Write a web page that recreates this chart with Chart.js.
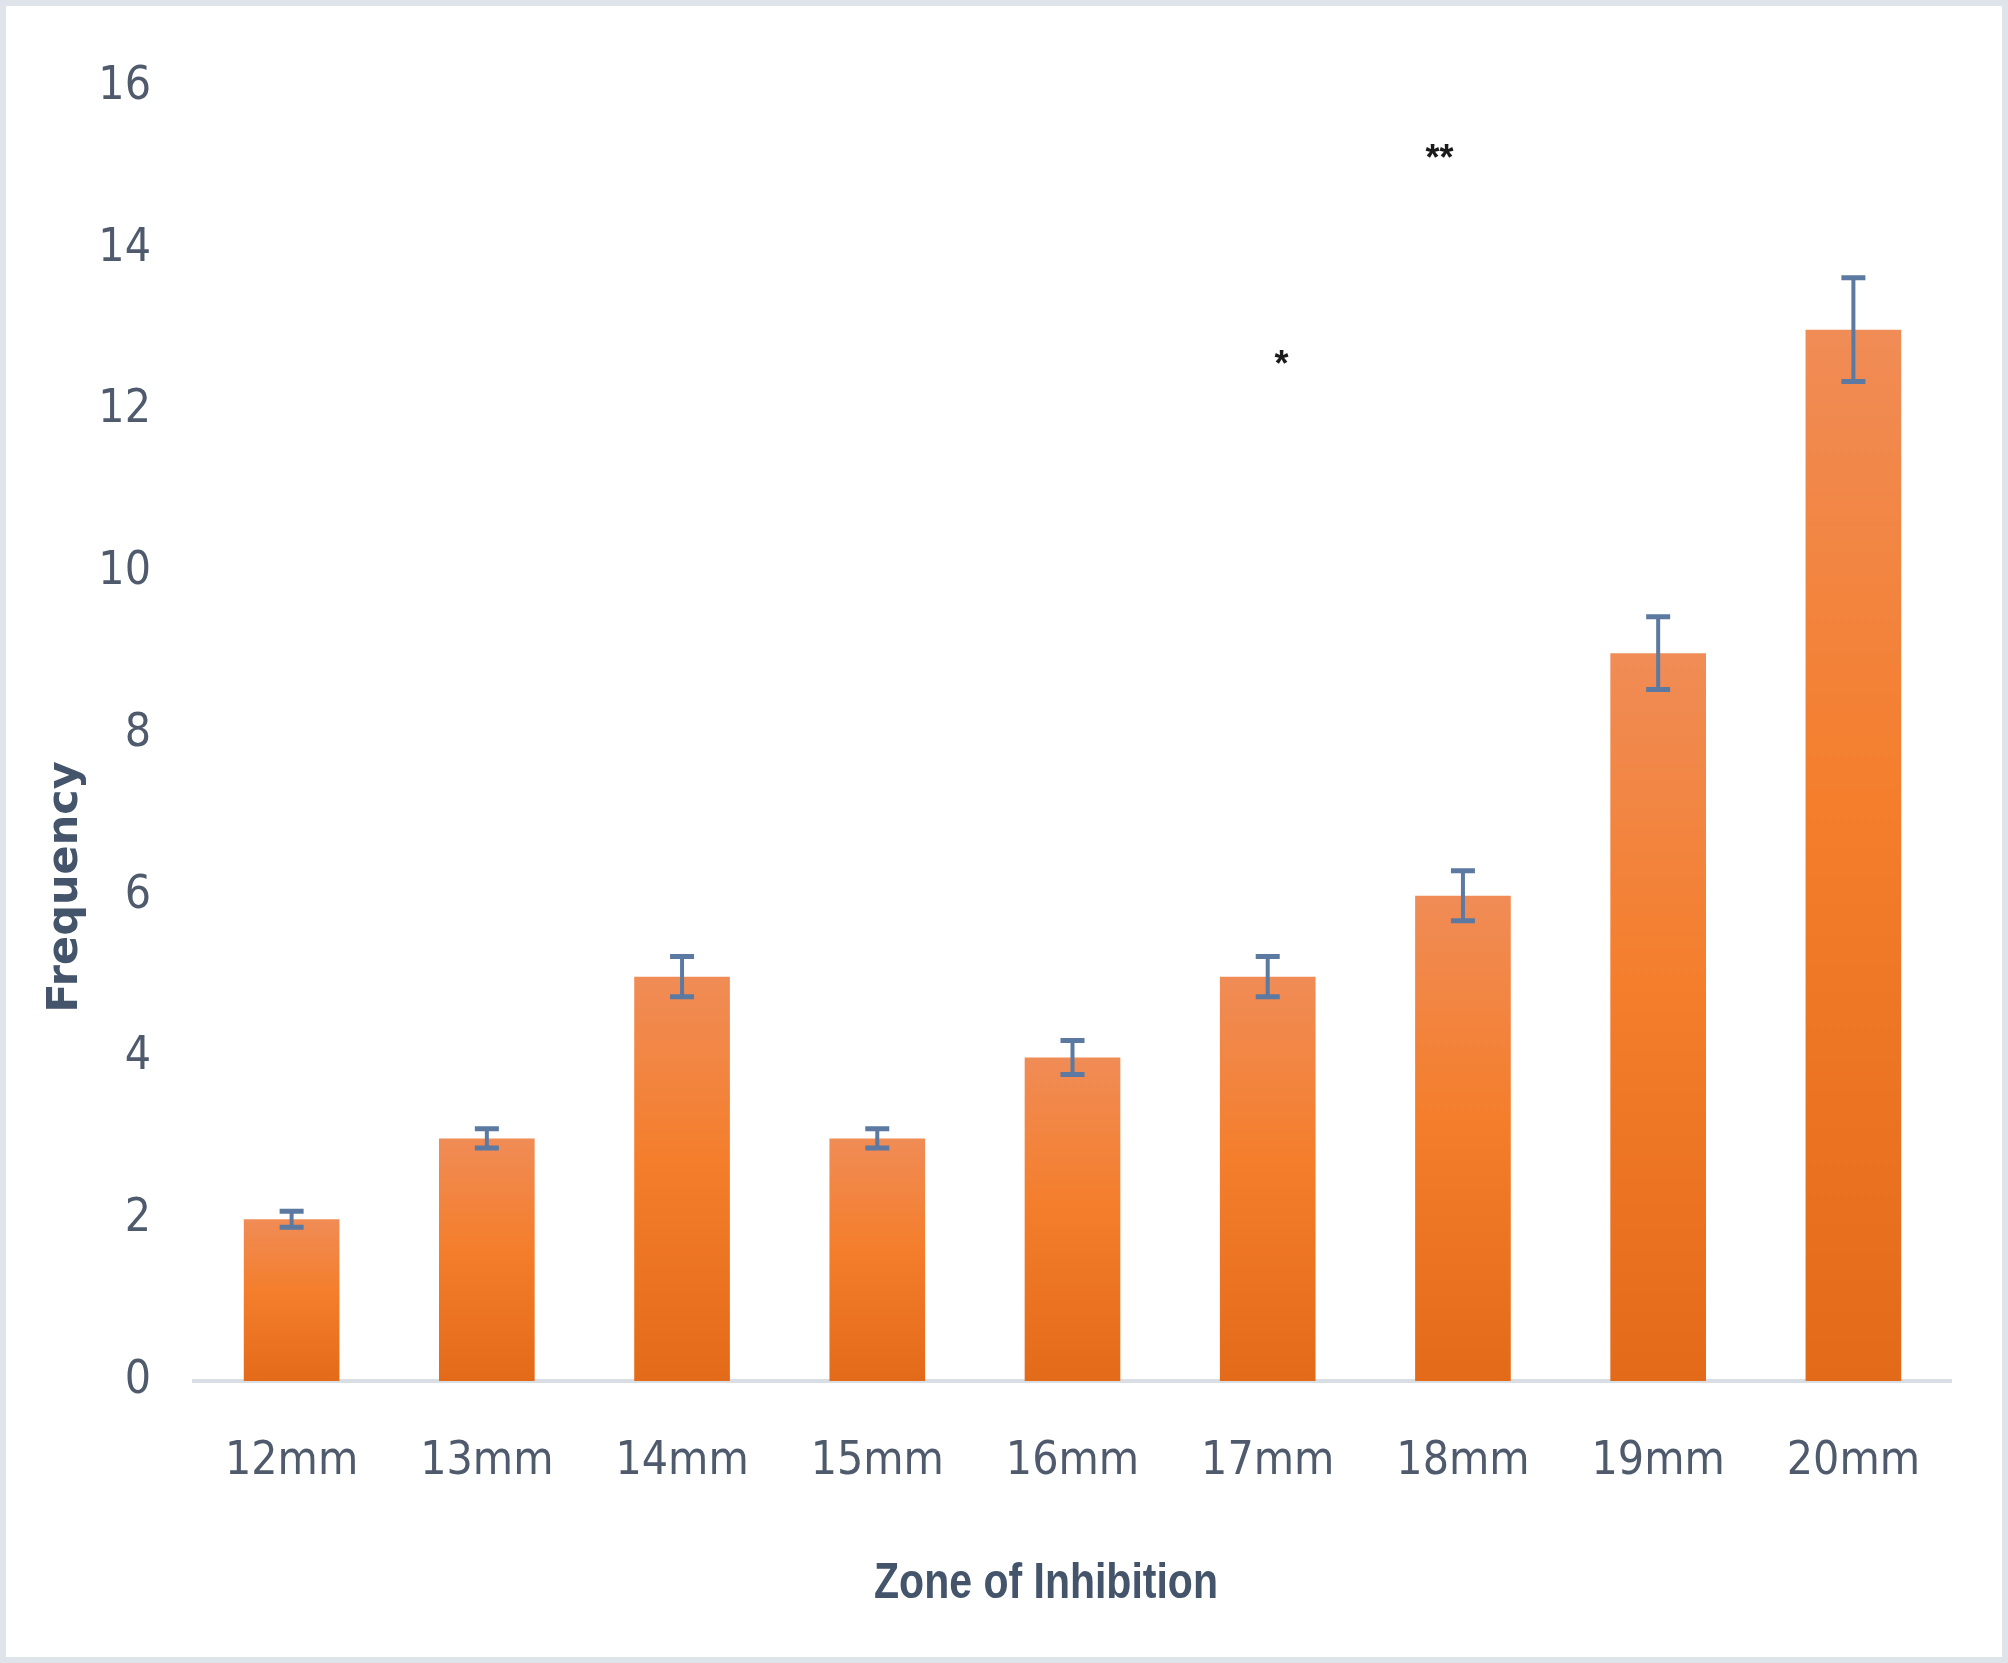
<!DOCTYPE html>
<html>
<head>
<meta charset="utf-8">
<script src="https://cdn.jsdelivr.net/npm/chart.js@4.4.1/dist/chart.umd.min.js"></script>
<style>
  html, body { margin: 0; padding: 0; background: #fff; }
  #wrap { width: 2008px; height: 1663px; }
</style>
</head>
<body>
<div id="wrap"><canvas id="zoneChart" width="2008" height="1663"></canvas></div>
<script>
// Zone of inhibition frequency data
const zones = ['12mm', '13mm', '14mm', '15mm', '16mm', '17mm', '18mm', '19mm', '20mm'];
const frequency = [2, 3, 5, 3, 4, 5, 6, 9, 13];
const errors = [0.1, 0.12, 0.25, 0.12, 0.21, 0.25, 0.31, 0.45, 0.64];
const yTicks = [0, 2, 4, 6, 8, 10, 12, 14, 16];

// significance marks (x as category index, y in frequency units)
const markText = ['*', '**'];
const markX = [5.07, 5.88];
const markY = [12.65, 15.19];

const narrow = "'DejaVu Sans Condensed', 'Liberation Sans', sans-serif";
const tickColor = '#4f5b6d';
const titleColor = '#44546a';

function barGradient(context) {
    const chart = context.chart;
    const y = chart.scales.y;
    if (!y || !chart.chartArea) return '#f47e2e';
    const v = frequency[context.dataIndex];
    const top = y.getPixelForValue(v);
    const base = y.getPixelForValue(0);
    const g = chart.ctx.createLinearGradient(0, top, 0, base);
    g.addColorStop(0, '#f08c56');
    g.addColorStop(0.45, '#f47e2c');
    g.addColorStop(1, '#e36a18');
    return g;
}

// page background and thin frame
const framePlugin = {
    id: 'frame',
    beforeDraw(chart) {
        const ctx = chart.ctx;
        ctx.save();
        ctx.fillStyle = '#ffffff';
        ctx.fillRect(0, 0, chart.width, chart.height);
        ctx.strokeStyle = '#dfe4ea';
        ctx.lineWidth = 6;
        ctx.strokeRect(3, 3, chart.width - 6, chart.height - 6);
        ctx.restore();
    }
};

// error bars, asterisks and axis titles
const extrasPlugin = {
    id: 'extras',
    afterDatasetsDraw(chart) {
        const ctx = chart.ctx;
        const x = chart.scales.x;
        const y = chart.scales.y;
        ctx.save();
        ctx.strokeStyle = '#5b79a1';
        ctx.lineCap = 'butt';
        frequency.forEach((v, i) => {
            const px = x.getPixelForValue(i);
            const hi = y.getPixelForValue(v + errors[i]);
            const lo = y.getPixelForValue(v - errors[i]);
            ctx.lineWidth = 4;
            ctx.beginPath();
            ctx.moveTo(px, hi);
            ctx.lineTo(px, lo);
            ctx.stroke();
            ctx.lineWidth = 5;
            ctx.beginPath();
            ctx.moveTo(px - 12, hi);
            ctx.lineTo(px + 12, hi);
            ctx.moveTo(px - 12, lo);
            ctx.lineTo(px + 12, lo);
            ctx.stroke();
        });

        ctx.fillStyle = '#1a1a1a';
        ctx.font = "bold 36px 'Liberation Sans', sans-serif";
        ctx.textAlign = 'center';
        ctx.textBaseline = 'middle';
        markText.forEach((t, i) => {
            ctx.fillText(t, x.getPixelForValue(markX[i]), y.getPixelForValue(markY[i]) + 8);
        });

        // x title, squeezed a little to look like the narrow original font
        ctx.fillStyle = titleColor;
        ctx.save();
        ctx.translate(1046, 1584);
        ctx.scale(0.82, 1);
        ctx.font = "bold 50px 'Liberation Sans', sans-serif";
        ctx.fillText('Zone of Inhibition', 0, 0);
        ctx.restore();

        ctx.translate(66, 887);
        ctx.rotate(-Math.PI / 2);
        ctx.font = "bold 43px 'DejaVu Sans', sans-serif";
        ctx.fillText('Frequency', 0, 0);
        ctx.restore();
    }
};

const zoneCtx = document.getElementById('zoneChart').getContext('2d');
const zoneChart = new Chart(zoneCtx, {
    type: 'bar',
    data: {
        labels: zones,
        datasets: [{
            label: 'Frequency',
            data: frequency,
            backgroundColor: barGradient,
            borderWidth: 0,
            barPercentage: 0.49,
            categoryPercentage: 1.0,
        }]
    },
    options: {
        responsive: false,
        animation: false,
        layout: {
            padding: { left: 0, right: 57, top: 87, bottom: 0 }
        },
        scales: {
            x: {
                grid: { display: false, drawTicks: false },
                border: { display: true, color: '#d9dee5', width: 4 },
                ticks: {
                    color: tickColor,
                    font: { family: narrow, size: 46 },
                    padding: 53,
                },
                afterFit(scale) { scale.height = 282; }
            },
            y: {
                min: 0,
                max: 16,
                afterBuildTicks(scale) {
                    scale.ticks = yTicks.map(v => ({ value: v }));
                },
                grid: { display: false, drawTicks: false },
                border: { display: false },
                ticks: {
                    color: tickColor,
                    font: { family: narrow, size: 46 },
                    padding: 43,
                },
                afterFit(scale) { scale.width = 194; }
            }
        },
        plugins: {
            legend: { display: false },
            tooltip: { enabled: false }
        }
    },
    plugins: [framePlugin, extrasPlugin]
});
</script>
</body>
</html>
